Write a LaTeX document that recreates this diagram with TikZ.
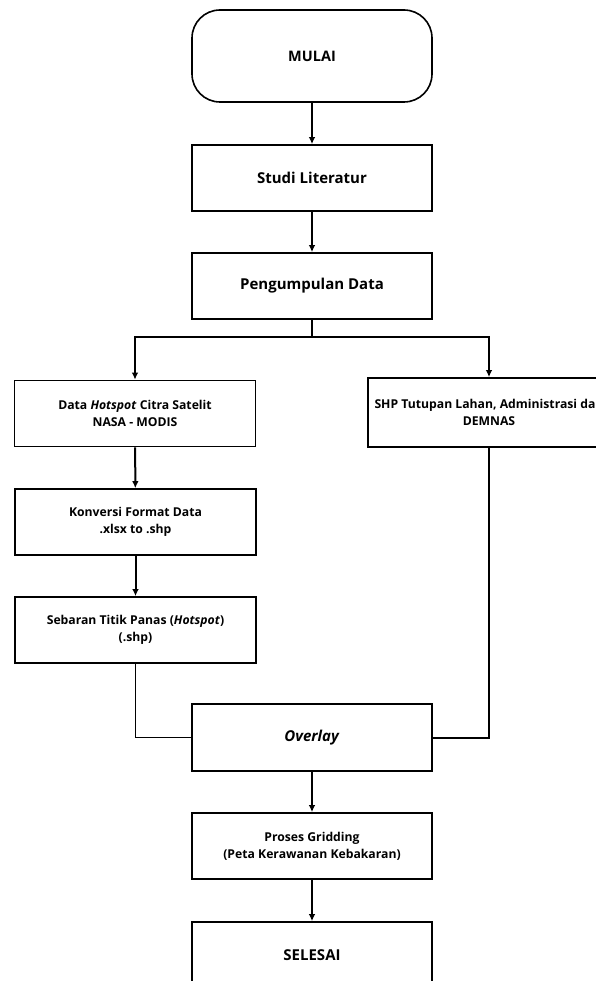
\documentclass[tikz,border=0pt]{standalone}
\usepackage{fontspec}
\setmainfont{Open Sans}
\usepackage{tikz}
\usetikzlibrary{positioning,arrows.meta,calc}
\tikzset{
  flowarrow/.style={-{Latex[length=7pt,width=6.5pt]}, line width=2pt},
  flowline/.style={line width=2pt},
  thinline/.style={line width=1.3pt},
  termnode/.style={draw, line width=1.6pt, rounded corners=28pt, minimum width=240pt, minimum height=92pt, align=center, font=\bfseries\fontsize{14.5}{17}\selectfont},
  bignode/.style={draw, line width=1.6pt, minimum width=240pt, minimum height=66pt, align=center, font=\bfseries\fontsize{15}{17}\selectfont},
  smallnode/.style={draw, line width=1.6pt, minimum width=241pt, minimum height=66pt, align=center, inner xsep=1pt, font=\bfseries\fontsize{12.2}{17}\selectfont}
}
\begin{document}
\begin{tikzpicture}[x=1pt, y=-1pt]
      \useasboundingbox (0,0) rectangle (595,981);
      \node[termnode] (mulai) at (312,56) {MULAI};
      \node[bignode] (studi) at (312,178) {Studi Literatur};
      \node[bignode] (kumpul) at (312,286) {Pengumpulan Data};
      \node[smallnode] (hotspot) at (135,413.5) {Data \textit{Hotspot} Citra Satelit\\NASA - MODIS};
      \node[smallnode, minimum width=242pt, minimum height=69pt] (shp) at (489,412.5) {SHP Tutupan Lahan, Administrasi dan\\DEMNAS};
      \node[smallnode] (konversi) at (135.5,522) {Konversi Format Data\\.xlsx to .shp};
      \node[smallnode] (sebaran) at (135.5,630) {Sebaran Titik Panas (\textit{Hotspot})\\(.shp)};
      \node[bignode, minimum height=67pt] (overlay) at (312,737.5) {\textit{Overlay}};
      \node[smallnode, minimum width=240pt] (grid) at (312,846) {Proses Gridding\\(Peta Kerawanan Kebakaran)};
      \node[bignode] (selesai) at (312,955) {SELESAI};
      \coordinate (cabang) at (312,337);
      \draw[flowarrow] (mulai) -- (studi);
      \draw[flowarrow] (studi) -- (kumpul);
      \draw[flowline] (kumpul) -- (cabang);
      \draw[flowarrow] (cabang) -| (hotspot);
      \draw[flowarrow] (cabang) -| (shp);
      \draw[flowarrow] (hotspot) -- (konversi);
      \draw[flowarrow] (konversi) -- (sebaran);
      \draw[thinline] (sebaran) |- (overlay);
      \draw[flowline] (shp) |- (overlay);
      \draw[flowarrow] (overlay) -- (grid);
      \draw[flowarrow] (grid) -- (selesai);
    \end{tikzpicture}
\end{document}
